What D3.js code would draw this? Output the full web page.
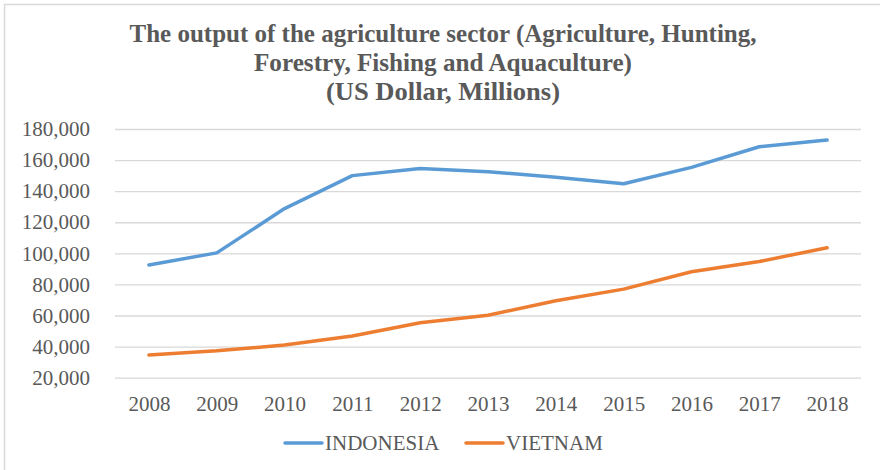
<!DOCTYPE html>
<html>
<head>
<meta charset="utf-8">
<script src="https://cdn.jsdelivr.net/npm/d3@7"></script>
<style>
  body { margin: 0; background: #fff; }
  svg { display: block; }
</style>
</head>
<body>
<div id="chart"></div>
<script>
// data
var years = ["2008", "2009", "2010", "2011", "2012", "2013", "2014", "2015", "2016", "2017", "2018"];
var indonesia = [92500, 100300, 128800, 150000, 154600, 152500, 149000, 144800, 155300, 168600, 172900];
var vietnam = [34600, 37300, 41000, 46800, 55400, 60200, 69500, 77000, 88200, 94700, 103600];
var seriesNames = ["INDONESIA", "VIETNAM"];
var yTicks = [20000, 40000, 60000, 80000, 100000, 120000, 140000, 160000, 180000];
var titleLines = [
    "The output of the agriculture sector (Agriculture, Hunting,",
    "Forestry, Fishing and Aquaculture)",
    "(US Dollar, Millions)"
];

(() => {
    var W = 880, H = 470;
    var colors = ["#5b9bd5", "#ed7d31"];
    var textColor = "#595959";
    var font = "'Liberation Serif', 'Times New Roman', serif";

    var svg = d3.select("#chart")
        .append("svg")
        .attr("width", W)
        .attr("height", H);

    // chart frame (only left/top edge visible in the picture)
    svg.append("rect")
        .attr("x", 4.5).attr("y", 4.5)
        .attr("width", W + 20).attr("height", H + 20)
        .attr("fill", "white")
        .attr("stroke", "#d9d9d9")
        .attr("stroke-width", 1.5);

    var x = d3.scalePoint()
        .domain(years)
        .range([115, 861])
        .padding(0.5);

    var y = d3.scaleLinear()
        .domain([20000, 180000])
        .range([377.7, 129]);

    // title
    var titleWidths = [627, 378, 234];
    svg.append("g").selectAll("text")
        .data(titleLines)
        .enter()
        .append("text")
        .attr("x", 443)
        .attr("y", function (d, i) { return 42 + i * 29; })
        .attr("text-anchor", "middle")
        .attr("textLength", function (d, i) { return titleWidths[i]; })
        .attr("lengthAdjust", "spacingAndGlyphs")
        .style("font-family", font)
        .style("font-weight", "bold")
        .style("font-size", "25px")
        .attr("fill", textColor)
        .text(function (d) { return d; });

    // gridlines + y labels
    var yAxis = d3.axisLeft(y)
        .tickValues(yTicks)
        .tickSize(-(861 - 115))
        .tickPadding(25)
        .tickFormat(d3.format(","));

    var gy = svg.append("g")
        .attr("transform", "translate(115,0)")
        .call(yAxis);
    gy.select(".domain").remove();
    gy.selectAll(".tick line")
        .attr("stroke", "#d9d9d9")
        .attr("stroke-width", 1.3);
    gy.selectAll(".tick text")
        .attr("fill", textColor)
        .attr("dy", "0.32em")
        .style("font-family", font)
        .style("font-size", "21px");

    // x labels
    var xAxis = d3.axisBottom(x).tickSize(0).tickPadding(0);
    var gx = svg.append("g")
        .attr("transform", "translate(0,392)")
        .call(xAxis);
    gx.select(".domain").remove();
    gx.selectAll(".tick text")
        .attr("fill", textColor)
        .attr("dy", "0.92em")
        .style("font-family", font)
        .style("font-size", "21px");

    // lines
    var line = d3.line()
        .x(function (d, i) { return x(years[i]); })
        .y(function (d) { return y(d); });

    [indonesia, vietnam].forEach(function (vals, k) {
        svg.append("path")
            .datum(vals)
            .attr("d", line)
            .attr("fill", "none")
            .attr("stroke", colors[k])
            .attr("stroke-width", 3.5)
            .attr("stroke-linecap", "round")
            .attr("stroke-linejoin", "round");
    });

    // legend
    var legendX = [285, 466];
    var leg = svg.append("g").selectAll("g")
        .data(seriesNames)
        .enter()
        .append("g")
        .attr("transform", function (d, i) { return "translate(" + legendX[i] + ",443)"; });
    leg.append("line")
        .attr("x1", 0).attr("x2", 37)
        .attr("stroke", function (d, i) { return colors[i]; })
        .attr("stroke-width", 3.5)
        .attr("stroke-linecap", "round");
    leg.append("text")
        .attr("x", 40)
        .attr("y", 7)
        .attr("fill", textColor)
        .style("font-family", font)
        .style("font-size", "21px")
        .text(function (d) { return d; });
})();
</script>
</body>
</html>
